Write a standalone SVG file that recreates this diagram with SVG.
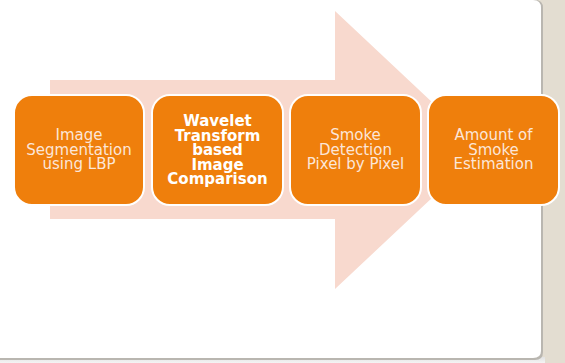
<svg xmlns="http://www.w3.org/2000/svg" width="565" height="363" viewBox="0 0 565 363">
<defs>
<style>
.box{fill:#ef7f0c;stroke:#ffffff;stroke-width:2}
.t{font-family:"DejaVu Sans","Verdana",sans-serif;font-size:15px;fill:#fce6d8;text-anchor:middle}
.tb{font-family:"DejaVu Sans","Verdana",sans-serif;font-size:15px;font-weight:bold;fill:#ffffff;text-anchor:middle}
</style>
<linearGradient id="bot" x1="0" y1="0" x2="0" y2="1">
<stop offset="0" stop-color="#e2e2e2"/>
<stop offset="1" stop-color="#f4f4f4"/>
</linearGradient>
</defs>
<rect x="0" y="0" width="565" height="363" fill="#e3ddd1"/>
<rect x="0" y="357" width="545" height="6" fill="url(#bot)"/>
<path d="M0 0 H535 Q543 0 543 8 V352 Q543 360 535 360 H0 Z" fill="#b9b6b0"/>
<path d="M0 0 H533 Q541 0 541 8 V351 Q541 358 533 358 H0 Z" fill="#ffffff"/>
<g id="arrow">
<polygon points="50,80 335,80 335,11 483,150 335,289 335,219 50,219" fill="#f8d9ce"/>
</g>
<g id="node1">
<rect class="box" x="14" y="95" width="130" height="110" rx="18"/>
<text class="t" x="79" y="140">Image</text>
<text class="t" x="79" y="154.5">Segmentation</text>
<text class="t" x="79" y="169">using LBP</text>
</g>
<g id="node2">
<rect class="box" x="152" y="95" width="131" height="110" rx="18"/>
<text class="tb" x="217.5" y="126">Wavelet</text>
<text class="tb" x="217.5" y="140.5">Transform</text>
<text class="tb" x="217.5" y="155">based</text>
<text class="tb" x="217.5" y="169.5">Image</text>
<text class="tb" x="217.5" y="184">Comparison</text>
</g>
<g id="node3">
<rect class="box" x="290" y="95" width="131" height="110" rx="18"/>
<text class="t" x="355.5" y="140">Smoke</text>
<text class="t" x="355.5" y="154.5">Detection</text>
<text class="t" x="355.5" y="169">Pixel by Pixel</text>
</g>
<g id="node4">
<rect class="box" x="428" y="95" width="131" height="110" rx="18"/>
<text class="t" x="493.5" y="140">Amount of</text>
<text class="t" x="493.5" y="154.5">Smoke</text>
<text class="t" x="493.5" y="169">Estimation</text>
</g>
<g id="connectors"></g>
</svg>
